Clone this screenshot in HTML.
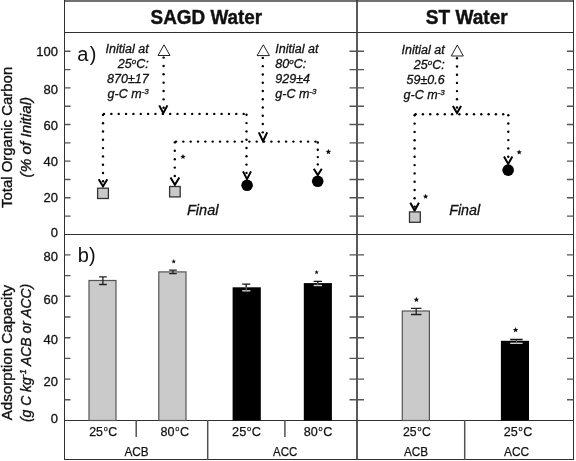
<!DOCTYPE html><html><head><meta charset="utf-8"><style>html,body{margin:0;padding:0;background:#fff;width:576px;height:461px;overflow:hidden}svg{display:block;will-change:transform}svg,svg text{font-family:"Liberation Sans",sans-serif}</style></head><body><svg width="576" height="461" viewBox="0 0 576 461">
<rect x="0" y="0" width="576" height="461" fill="#fff"/>
<g stroke="#303030" stroke-width="1" fill="none" shape-rendering="crispEdges">
<rect x="64" y="0" width="510" height="2" fill="#717171" stroke="none"/>
<line x1="64.5" y1="0" x2="64.5" y2="460"/>
<line x1="573.5" y1="0" x2="573.5" y2="460"/>
<line x1="64" y1="32.5" x2="574" y2="32.5"/>
<line x1="64" y1="234.5" x2="574" y2="234.5"/>
<line x1="64" y1="420.5" x2="574" y2="420.5"/>
<line x1="64" y1="459.5" x2="574" y2="459.5"/>
<line x1="357" y1="0" x2="357" y2="460" stroke-width="1.7" stroke="#3c3c3c" shape-rendering="auto"/>
<line x1="136.2" y1="420" x2="136.2" y2="437" stroke="#505050" stroke-width="1.5" shape-rendering="auto"/>
<line x1="284.9" y1="420" x2="284.9" y2="437" stroke="#505050" stroke-width="1.5" shape-rendering="auto"/>
<line x1="207.7" y1="420" x2="207.7" y2="460" stroke="#505050" stroke-width="1.5" shape-rendering="auto"/>
<line x1="464.7" y1="420" x2="464.7" y2="460" stroke="#505050" stroke-width="1.5" shape-rendering="auto"/>
</g>
<path d="M64.5 216.09H70.5M349.5 216.09H364M567 216.09H573.5M64.5 197.78H70.5M349.5 197.78H364M567 197.78H573.5M64.5 179.47H70.5M349.5 179.47H364M567 179.47H573.5M64.5 161.16H70.5M349.5 161.16H364M567 161.16H573.5M64.5 142.85H70.5M349.5 142.85H364M567 142.85H573.5M64.5 124.54H70.5M349.5 124.54H364M567 124.54H573.5M64.5 106.23H70.5M349.5 106.23H364M567 106.23H573.5M64.5 87.92H70.5M349.5 87.92H364M567 87.92H573.5M64.5 69.61H70.5M349.5 69.61H364M567 69.61H573.5M64.5 51.30H70.5M349.5 51.30H364M567 51.30H573.5M64.5 399.80H70.5M349.5 399.80H364M567 399.80H573.5M64.5 379.10H70.5M349.5 379.10H364M567 379.10H573.5M64.5 358.40H70.5M349.5 358.40H364M567 358.40H573.5M64.5 337.70H70.5M349.5 337.70H364M567 337.70H573.5M64.5 317.00H70.5M349.5 317.00H364M567 317.00H573.5M64.5 296.30H70.5M349.5 296.30H364M567 296.30H573.5M64.5 275.60H70.5M349.5 275.60H364M567 275.60H573.5M64.5 254.90H70.5M349.5 254.90H364M567 254.90H573.5" stroke="#555" stroke-width="1.4" fill="none"/>
<g font-size="13" fill="#111" stroke="#111" stroke-width="0.3" text-anchor="end">
<text x="58" y="56.0">100</text>
<text x="58" y="93.8">80</text>
<text x="58" y="129.8">60</text>
<text x="58" y="165.5">40</text>
<text x="58" y="201.8">20</text>
<text x="58" y="237.1">0</text>
<text x="58" y="261.0">80</text>
<text x="58" y="303.7">60</text>
<text x="58" y="343.6">40</text>
<text x="58" y="386.2">20</text>
<text x="58" y="423.4">0</text>
</g>
<g font-weight="bold" font-size="21" fill="#111" stroke="#111" stroke-width="0.45">
<text x="150.6" y="24.2" textLength="111.6" lengthAdjust="spacingAndGlyphs">SAGD Water</text>
<text x="425.8" y="24.2" textLength="81.9" lengthAdjust="spacingAndGlyphs">ST Water</text>
</g>
<g fill="#111" stroke="#111" stroke-width="0.35">
<text transform="translate(11.5 208) rotate(-90)" x="0" y="0" font-size="14.8" textLength="141.2" lengthAdjust="spacingAndGlyphs">Total Organic Carbon</text>
<text transform="translate(31 177.4) rotate(-90)" x="0" y="0" font-size="14.8" font-style="italic" textLength="80.6" lengthAdjust="spacingAndGlyphs">(% of Initial)</text>
<text transform="translate(11.9 420.3) rotate(-90)" x="0" y="0" font-size="14.6" textLength="135.5" lengthAdjust="spacingAndGlyphs">Adsorption Capacity</text>
<text transform="translate(31.1 422.1) rotate(-90)" x="0" y="0" font-size="14.8" font-style="italic" textLength="138.3" lengthAdjust="spacingAndGlyphs">(g C kg<tspan font-size="9.5" dy="-5.5">-1</tspan><tspan dy="5.5"> ACB or ACC)</tspan></text>
</g>
<g font-size="20" fill="#111">
<text x="77.3" y="61">a<tspan dx="1.2">)</tspan></text>
<text x="77.8" y="261.8">b<tspan dx="0">)</tspan></text>
</g>
<g font-size="12.5" font-style="italic" fill="#111" stroke="#111" stroke-width="0.3">
<text x="148.7" y="53" text-anchor="end">Initial at</text>
<text x="148.7" y="68" text-anchor="end">25<tspan font-size="8" dy="-4">o</tspan><tspan dy="4">C:</tspan></text>
<text x="148.7" y="83" text-anchor="end">870±17</text>
<text x="148.7" y="98" text-anchor="end">g-C m<tspan font-size="8" dy="-4">-3</tspan></text>
<text x="275.3" y="53">Initial at</text>
<text x="275.3" y="68">80<tspan font-size="8" dy="-4">o</tspan><tspan dy="4">C:</tspan></text>
<text x="275.3" y="83">929±4</text>
<text x="275.3" y="98">g-C m<tspan font-size="8" dy="-4">-3</tspan></text>
<text x="444.7" y="53.8" text-anchor="end">Initial at</text>
<text x="444.7" y="68.6" text-anchor="end">25<tspan font-size="8" dy="-4">o</tspan><tspan dy="4">C:</tspan></text>
<text x="444.7" y="83.7" text-anchor="end">59±0.6</text>
<text x="444.7" y="98.7" text-anchor="end">g-C m<tspan font-size="8" dy="-4">-3</tspan></text>
</g>
<g font-size="14" font-style="italic" fill="#111" stroke="#111" stroke-width="0.3">
<text x="187" y="214.8" textLength="31.5" lengthAdjust="spacingAndGlyphs">Final</text>
<text x="449.2" y="215.3" textLength="31" lengthAdjust="spacingAndGlyphs">Final</text>
</g>
<g fill="#000">
<circle cx="163.60" cy="57.60" r="1.2"/>
<circle cx="163.60" cy="65.95" r="1.2"/>
<circle cx="163.60" cy="74.30" r="1.2"/>
<circle cx="163.60" cy="82.65" r="1.2"/>
<circle cx="163.60" cy="91.00" r="1.2"/>
<circle cx="163.60" cy="99.35" r="1.2"/>
<circle cx="163.60" cy="107.70" r="1.2"/>
<circle cx="104.00" cy="113.90" r="1.2"/>
<circle cx="111.35" cy="113.90" r="1.2"/>
<circle cx="118.70" cy="113.90" r="1.2"/>
<circle cx="126.05" cy="113.90" r="1.2"/>
<circle cx="133.40" cy="113.90" r="1.2"/>
<circle cx="140.75" cy="113.90" r="1.2"/>
<circle cx="148.10" cy="113.90" r="1.2"/>
<circle cx="155.45" cy="113.90" r="1.2"/>
<circle cx="162.80" cy="113.90" r="1.2"/>
<circle cx="170.15" cy="113.90" r="1.2"/>
<circle cx="177.50" cy="113.90" r="1.2"/>
<circle cx="184.85" cy="113.90" r="1.2"/>
<circle cx="192.20" cy="113.90" r="1.2"/>
<circle cx="199.55" cy="113.90" r="1.2"/>
<circle cx="206.90" cy="113.90" r="1.2"/>
<circle cx="214.25" cy="113.90" r="1.2"/>
<circle cx="221.60" cy="113.90" r="1.2"/>
<circle cx="228.95" cy="113.90" r="1.2"/>
<circle cx="236.30" cy="113.90" r="1.2"/>
<circle cx="243.65" cy="113.90" r="1.2"/>
<circle cx="103.00" cy="114.90" r="1.2"/>
<circle cx="103.00" cy="123.20" r="1.2"/>
<circle cx="103.00" cy="131.50" r="1.2"/>
<circle cx="103.00" cy="139.80" r="1.2"/>
<circle cx="103.00" cy="148.10" r="1.2"/>
<circle cx="103.00" cy="156.40" r="1.2"/>
<circle cx="103.00" cy="164.70" r="1.2"/>
<circle cx="103.00" cy="173.00" r="1.2"/>
<circle cx="103.00" cy="181.30" r="1.2"/>
<circle cx="246.50" cy="114.80" r="1.2"/>
<circle cx="246.50" cy="123.10" r="1.2"/>
<circle cx="246.50" cy="131.40" r="1.2"/>
<circle cx="246.50" cy="139.70" r="1.2"/>
<circle cx="246.50" cy="148.00" r="1.2"/>
<circle cx="246.50" cy="156.30" r="1.2"/>
<circle cx="246.50" cy="164.60" r="1.2"/>
<circle cx="246.50" cy="172.90" r="1.2"/>
<circle cx="262.80" cy="57.90" r="1.2"/>
<circle cx="262.80" cy="66.17" r="1.2"/>
<circle cx="262.80" cy="74.44" r="1.2"/>
<circle cx="262.80" cy="82.71" r="1.2"/>
<circle cx="262.80" cy="90.98" r="1.2"/>
<circle cx="262.80" cy="99.25" r="1.2"/>
<circle cx="262.80" cy="107.52" r="1.2"/>
<circle cx="262.80" cy="115.79" r="1.2"/>
<circle cx="262.80" cy="124.06" r="1.2"/>
<circle cx="262.80" cy="132.33" r="1.2"/>
<circle cx="176.00" cy="141.60" r="1.2"/>
<circle cx="183.34" cy="141.60" r="1.2"/>
<circle cx="190.68" cy="141.60" r="1.2"/>
<circle cx="198.02" cy="141.60" r="1.2"/>
<circle cx="205.36" cy="141.60" r="1.2"/>
<circle cx="212.70" cy="141.60" r="1.2"/>
<circle cx="220.04" cy="141.60" r="1.2"/>
<circle cx="227.38" cy="141.60" r="1.2"/>
<circle cx="234.72" cy="141.60" r="1.2"/>
<circle cx="242.06" cy="141.60" r="1.2"/>
<circle cx="249.40" cy="141.60" r="1.2"/>
<circle cx="256.74" cy="141.60" r="1.2"/>
<circle cx="264.08" cy="141.60" r="1.2"/>
<circle cx="271.42" cy="141.60" r="1.2"/>
<circle cx="278.76" cy="141.60" r="1.2"/>
<circle cx="286.10" cy="141.60" r="1.2"/>
<circle cx="293.44" cy="141.60" r="1.2"/>
<circle cx="300.78" cy="141.60" r="1.2"/>
<circle cx="308.12" cy="141.60" r="1.2"/>
<circle cx="315.46" cy="141.60" r="1.2"/>
<circle cx="174.80" cy="142.40" r="1.2"/>
<circle cx="174.80" cy="150.80" r="1.2"/>
<circle cx="174.80" cy="159.20" r="1.2"/>
<circle cx="174.80" cy="167.60" r="1.2"/>
<circle cx="174.80" cy="176.00" r="1.2"/>
<circle cx="317.80" cy="142.50" r="1.2"/>
<circle cx="317.80" cy="149.80" r="1.2"/>
<circle cx="317.80" cy="157.10" r="1.2"/>
<circle cx="317.80" cy="164.40" r="1.2"/>
<circle cx="457.00" cy="58.30" r="1.2"/>
<circle cx="457.00" cy="66.50" r="1.2"/>
<circle cx="457.00" cy="74.70" r="1.2"/>
<circle cx="457.00" cy="82.90" r="1.2"/>
<circle cx="457.00" cy="91.10" r="1.2"/>
<circle cx="457.00" cy="99.30" r="1.2"/>
<circle cx="457.00" cy="107.50" r="1.2"/>
<circle cx="415.60" cy="114.20" r="1.2"/>
<circle cx="422.90" cy="114.20" r="1.2"/>
<circle cx="430.20" cy="114.20" r="1.2"/>
<circle cx="437.50" cy="114.20" r="1.2"/>
<circle cx="444.80" cy="114.20" r="1.2"/>
<circle cx="452.10" cy="114.20" r="1.2"/>
<circle cx="459.40" cy="114.20" r="1.2"/>
<circle cx="466.70" cy="114.20" r="1.2"/>
<circle cx="474.00" cy="114.20" r="1.2"/>
<circle cx="481.30" cy="114.20" r="1.2"/>
<circle cx="488.60" cy="114.20" r="1.2"/>
<circle cx="495.90" cy="114.20" r="1.2"/>
<circle cx="503.20" cy="114.20" r="1.2"/>
<circle cx="414.60" cy="115.30" r="1.2"/>
<circle cx="414.60" cy="123.60" r="1.2"/>
<circle cx="414.60" cy="131.90" r="1.2"/>
<circle cx="414.60" cy="140.20" r="1.2"/>
<circle cx="414.60" cy="148.50" r="1.2"/>
<circle cx="414.60" cy="156.80" r="1.2"/>
<circle cx="414.60" cy="165.10" r="1.2"/>
<circle cx="414.60" cy="173.40" r="1.2"/>
<circle cx="414.60" cy="181.70" r="1.2"/>
<circle cx="414.60" cy="190.00" r="1.2"/>
<circle cx="414.60" cy="198.30" r="1.2"/>
<circle cx="414.60" cy="206.60" r="1.2"/>
<circle cx="508.30" cy="115.20" r="1.2"/>
<circle cx="508.30" cy="123.50" r="1.2"/>
<circle cx="508.30" cy="131.80" r="1.2"/>
<circle cx="508.30" cy="140.10" r="1.2"/>
<circle cx="508.30" cy="148.40" r="1.2"/>
<circle cx="508.30" cy="156.70" r="1.2"/>
</g>
<path d="M159.2 105.4L163.3 113.2L167.4 105.4M98.7 179.3L103.0 186.4L107.3 179.3M243.0 171.4L247.0 179.1L251.0 171.4M258.8 132.4L263.0 141.2L267.2 132.4M170.5 177.4L174.9 184.8L179.3 177.4M313.8 168.7L317.8 175.1L321.8 168.7M452.9 106.0L457.0 113.0L461.1 106.0M410.3 202.8L414.6 210.7L418.9 202.8M504.0 156.6L508.2 163.9L512.4 156.6" stroke="#000" stroke-width="2" fill="none" stroke-linejoin="miter"/>
<path d="M164 44.8L170.0 55.5L158.0 55.5Z" fill="#fff" stroke="#222" stroke-width="1"/>
<path d="M263.3 44.8L269.5 55.6L257.1 55.6Z" fill="#fff" stroke="#222" stroke-width="1"/>
<path d="M457.3 45L463.3 56L451.3 56Z" fill="#fff" stroke="#222" stroke-width="1"/>
<rect x="97.6" y="188.2" width="10.800000000000011" height="10.300000000000011" fill="#c9c9c9" stroke="#333" stroke-width="1.3"/>
<rect x="169.6" y="186.5" width="10.599999999999994" height="10.400000000000006" fill="#c9c9c9" stroke="#333" stroke-width="1.3"/>
<rect x="409.5" y="211.9" width="10.800000000000011" height="10.400000000000006" fill="#c9c9c9" stroke="#333" stroke-width="1.3"/>
<circle cx="247.1" cy="185.3" r="5.8" fill="#000"/>
<circle cx="317.7" cy="181.3" r="5.8" fill="#000"/>
<circle cx="508.15" cy="170.15" r="5.8" fill="#000"/>
<polygon points="183.00,154.00 183.74,155.78 185.66,155.93 184.20,157.19 184.65,159.07 183.00,158.06 181.35,159.07 181.80,157.19 180.34,155.93 182.26,155.78" fill="#111"/>
<polygon points="328.40,149.00 329.17,150.84 331.16,151.00 329.64,152.30 330.10,154.25 328.40,153.21 326.70,154.25 327.16,152.30 325.64,151.00 327.63,150.84" fill="#111"/>
<polygon points="425.60,193.80 426.34,195.58 428.26,195.73 426.80,196.99 427.25,198.87 425.60,197.86 423.95,198.87 424.40,196.99 422.94,195.73 424.86,195.58" fill="#111"/>
<polygon points="519.20,149.50 519.94,151.28 521.86,151.43 520.40,152.69 520.85,154.57 519.20,153.56 517.55,154.57 518.00,152.69 516.54,151.43 518.46,151.28" fill="#111"/>
<polygon points="173.70,259.10 174.33,260.63 175.98,260.76 174.73,261.83 175.11,263.44 173.70,262.58 172.29,263.44 172.67,261.83 171.42,260.76 173.07,260.63" fill="#111"/>
<polygon points="316.60,270.00 317.21,271.46 318.79,271.59 317.58,272.62 317.95,274.16 316.60,273.34 315.25,274.16 315.62,272.62 314.41,271.59 315.99,271.46" fill="#111"/>
<polygon points="416.40,296.80 417.17,298.64 419.16,298.80 417.64,300.10 418.10,302.05 416.40,301.00 414.70,302.05 415.16,300.10 413.64,298.80 415.63,298.64" fill="#111"/>
<polygon points="515.60,327.10 516.37,328.94 518.36,329.10 516.84,330.40 517.30,332.35 515.60,331.31 513.90,332.35 514.36,330.40 512.84,329.10 514.83,328.94" fill="#111"/>
<rect x="89.0" y="280.5" width="27.0" height="140.0" fill="#cacaca" stroke="#555" stroke-width="1.2"/>
<path d="M99.1 276.9H106.8M99.1 284.5H106.8M102.9 276.9V284.5" stroke="#222" stroke-width="1.3" fill="none"/>
<rect x="158.8" y="271.9" width="27.2" height="148.6" fill="#cacaca" stroke="#555" stroke-width="1.2"/>
<path d="M169.1 270.1H176.8M169.1 273.6H176.8M172.9 270.1V273.6" stroke="#222" stroke-width="1.3" fill="none"/>
<rect x="232.6" y="287.3" width="28.2" height="133.2" fill="#000"/>
<path d="M242.2 284.2H250.3M246.2 284.2V287.3" stroke="#111" stroke-width="1.3" fill="none"/>
<path d="M242.2 290.8H250.3" stroke="#d0d0d0" stroke-width="1.4" fill="none"/>
<path d="M246.2 287.3V290.8" stroke="#777" stroke-width="1" fill="none"/>
<rect x="303.8" y="283.1" width="28.1" height="137.4" fill="#000"/>
<path d="M313.6 281.4H322.0M317.8 281.4V283.1" stroke="#111" stroke-width="1.3" fill="none"/>
<path d="M313.6 285.5H322.0" stroke="#d0d0d0" stroke-width="1.4" fill="none"/>
<path d="M317.8 283.1V285.5" stroke="#777" stroke-width="1" fill="none"/>
<rect x="402.3" y="311.0" width="27.1" height="109.5" fill="#cacaca" stroke="#555" stroke-width="1.2"/>
<path d="M411.0 308.4H421.5M411.0 314.5H421.5M416.2 308.4V314.5" stroke="#222" stroke-width="1.3" fill="none"/>
<rect x="500.9" y="340.8" width="28.1" height="79.7" fill="#000"/>
<path d="M510.1 339.5H522.6M516.4 339.5V340.8" stroke="#111" stroke-width="1.3" fill="none"/>
<path d="M510.1 343.3H522.6" stroke="#d0d0d0" stroke-width="1.4" fill="none"/>
<path d="M516.4 340.8V343.3" stroke="#777" stroke-width="1" fill="none"/>
<g font-size="13.4" fill="#111" stroke="#111" stroke-width="0.25">
<text x="89.2" y="436" textLength="28.1" lengthAdjust="spacingAndGlyphs">25<tspan font-size="7.8" dx="0.9" dy="-5.2">o</tspan><tspan dx="0.6" dy="5.2">C</tspan></text>
<text x="160.4" y="436" textLength="28.6" lengthAdjust="spacingAndGlyphs">80<tspan font-size="7.8" dx="0.9" dy="-5.2">o</tspan><tspan dx="0.6" dy="5.2">C</tspan></text>
<text x="232.1" y="436" textLength="28.9" lengthAdjust="spacingAndGlyphs">25<tspan font-size="7.8" dx="0.9" dy="-5.2">o</tspan><tspan dx="0.6" dy="5.2">C</tspan></text>
<text x="303.7" y="436" textLength="28.6" lengthAdjust="spacingAndGlyphs">80<tspan font-size="7.8" dx="0.9" dy="-5.2">o</tspan><tspan dx="0.6" dy="5.2">C</tspan></text>
<text x="403.0" y="436" textLength="27.8" lengthAdjust="spacingAndGlyphs">25<tspan font-size="7.8" dx="0.9" dy="-5.2">o</tspan><tspan dx="0.6" dy="5.2">C</tspan></text>
<text x="503.8" y="436" textLength="28.5" lengthAdjust="spacingAndGlyphs">25<tspan font-size="7.8" dx="0.9" dy="-5.2">o</tspan><tspan dx="0.6" dy="5.2">C</tspan></text>
<text x="124.4" y="456" textLength="24.2" lengthAdjust="spacingAndGlyphs">ACB</text>
<text x="273.1" y="456" textLength="24.2" lengthAdjust="spacingAndGlyphs">ACC</text>
<text x="404.0" y="456" textLength="24.2" lengthAdjust="spacingAndGlyphs">ACB</text>
<text x="504.0" y="456" textLength="25.1" lengthAdjust="spacingAndGlyphs">ACC</text>
</g>
</svg></body></html>
